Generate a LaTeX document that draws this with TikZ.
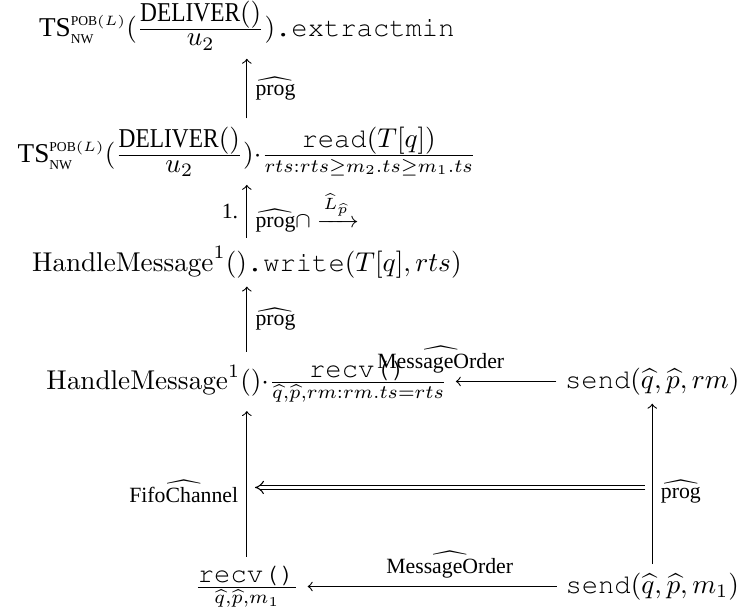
\documentclass[tikz,border=0pt]{standalone}
\usepackage{amsmath}
\usepackage{graphicx}
\usepackage[no-math]{fontspec}
\setmainfont{Liberation Serif}
\newcommand{\ttf}[1]{\text{\fontencoding{T1}\fontfamily{pcr}\selectfont #1}}
\newcommand{\deliv}{\text{\scalebox{0.86}[1]{DELIVER}}()}
\newcommand{\tsnw}{\text{TS}^{\scriptscriptstyle\text{POB}(L)}_{\scriptscriptstyle\text{NW}}}
\newcommand{\tfr}[2]{\frac{\textstyle #1}{#2}}
\usetikzlibrary{arrows.meta}

\begin{document}
\begin{tikzpicture}[>=to, inner sep=3pt,
    lbl/.style={font=\footnotesize},
    dbl/.style={double, double distance=1.3pt, -{Implies}}]
    \useasboundingbox (0,0) rectangle (9.59,-7.95);
    \node (tsmin) at (3.19,-0.33) {$\tsnw(\tfr{\deliv}{\textstyle u_2})\ttf{.extractmin}$};
    \node (tsread) at (3.19,-1.96) {$\tsnw(\tfr{\deliv}{\textstyle u_2}){\cdot}\tfr{\ttf{read}(T[q])}{rts:rts\geq m_2.ts\geq m_1.ts}$};
    \node (hmwrite) at (3.19,-3.39) {$\mathrm{HandleMessage}^1()\ttf{.write}(T[q],rts)$};
    \node (hmrecv) at (3.19,-4.93) {$\mathrm{HandleMessage}^1(){\cdot}\tfr{\ttf{recv()}}{\widehat{q},\widehat{p},rm:rm.ts=rts}$};
    \node (sendrm) at (8.43,-4.93) {$\ttf{send}(\widehat{q},\widehat{p},rm)$};
    \node (recvm) at (3.19,-7.58) {$\tfr{\ttf{recv()}}{\widehat{q},\widehat{p},m_1}$};
    \node (sendm) at (8.43,-7.58) {$\ttf{send}(\widehat{q},\widehat{p},m_1)$};
    \coordinate (fifoL) at (3.19,-6.30);
    \coordinate (fifoR) at (8.43,-6.30);
    \draw[->] (tsread) -- node[lbl, right] {$\widehat{\text{prog}}$} (tsmin);
    \draw[->] (hmwrite) -- node[lbl, left] {1.} node[lbl, right] {$\widehat{\text{prog}}\cap\xrightarrow{\widehat{L}_{\widehat{p}}}$} (tsread);
    \draw[->] (hmrecv) -- node[lbl, right] {$\widehat{\text{prog}}$} (hmwrite);
    \draw[->] (recvm) -- node[lbl, left, pos=0.45] {$\widehat{\text{FifoChannel}}$} (hmrecv);
    \draw[->] (sendm) -- node[lbl, right, pos=0.45] {$\widehat{\text{prog}}$} (sendrm);
    \draw[->] (sendrm) -- node[lbl, above, pos=1.15] {$\widehat{\text{MessageOrder}}$} (hmrecv);
    \draw[->] (sendm) -- node[lbl, above, pos=0.43] {$\widehat{\text{MessageOrder}}$} (recvm);
    \draw[dbl, shorten <=2.5pt, shorten >=3pt] (fifoR) -- (fifoL);
\end{tikzpicture}
\end{document}
